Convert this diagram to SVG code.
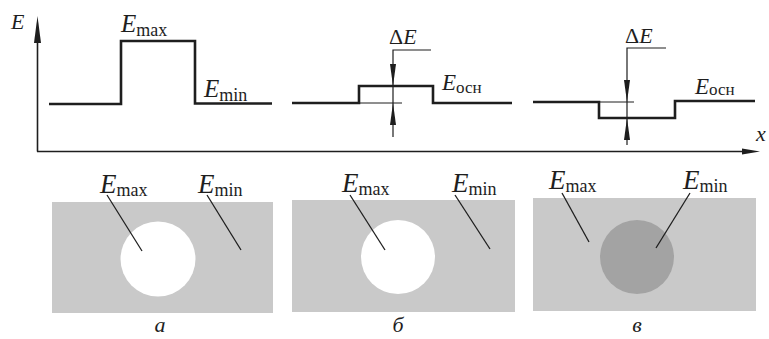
<svg xmlns="http://www.w3.org/2000/svg" width="769" height="339" viewBox="0 0 769 339">
<style>
.prof{fill:none;stroke:#1e1e1e;stroke-width:2.6;stroke-linejoin:miter}
.thin{fill:none;stroke:#1e1e1e;stroke-width:1}
.dim{fill:none;stroke:#1e1e1e;stroke-width:1.2}
.axis{fill:none;stroke:#1e1e1e;stroke-width:1.6}
.lead{fill:none;stroke:#1e1e1e;stroke-width:1.3}
.head{fill:#1e1e1e}
.E{font-family:"Liberation Serif",serif;font-style:italic;font-size:25px;fill:#1e1e1e}
.sub{font-family:"Liberation Serif",serif;font-style:normal;font-size:18px}
.up{font-style:normal}
.cap{font-family:"Liberation Serif",serif;font-style:italic;font-size:22px;fill:#1e1e1e}
.panel{fill:#c9c9c9}
</style>
<g id="axes">
<line class="axis" x1="37.5" y1="40" x2="37.5" y2="151.5"/>
<line class="axis" x1="37" y1="151.5" x2="745" y2="151.5"/>
<polygon class="head" points="37.5,16 41,43 34,43"/>
<polygon class="head" points="760,151.5 742,148.5 742,154.5"/>
<text class="E" x="11" y="29" style="font-size:22px">E</text>
<text class="E" x="756" y="141" style="font-size:22px">x</text>
</g>
<g id="profile-a">
<polyline class="prof" points="49,104 121,104 121,41 195,41 195,103.5 272,103.5"/>
<text class="E" x="121" y="32">E<tspan class="sub" dy="4">max</tspan></text>
<text class="E" x="204" y="97">E<tspan class="sub" dy="4">min</tspan></text>
</g>
<g id="profile-b">
<polyline class="prof" points="292,103 359,103 359,86 433,86 433,103 512,103"/>
<line class="thin" x1="359" y1="103" x2="402" y2="103"/>
<text class="E" x="389" y="44" style="font-size:22px"><tspan class="up">Δ</tspan>E</text>
<text class="E" x="442" y="90" style="font-size:23px">E<tspan class="sub" dy="3" style="font-size:17px">осн</tspan></text>
</g>
<g id="profile-c">
<polyline class="prof" points="533,102 599,102 599,118 675,118 675,101 755,101"/>
<line class="thin" x1="599" y1="102" x2="634" y2="102"/>
<text class="E" x="625" y="43" style="font-size:22px"><tspan class="up">Δ</tspan>E</text>
<text class="E" x="695" y="94" style="font-size:23px">E<tspan class="sub" dy="1" style="font-size:17px">осн</tspan></text>
</g>
<g id="image-a">
<rect class="panel" x="52" y="202" width="221" height="111"/>
<circle cx="158" cy="259" r="37.5" fill="#ffffff"/>
<text class="E" x="100" y="193" style="font-size:27px">E<tspan class="sub" dy="3">max</tspan></text>
<text class="E" x="198" y="193" style="font-size:27px">E<tspan class="sub" dy="3">min</tspan></text>
<text class="cap" x="160" y="332" text-anchor="middle">а</text>
</g>
<g id="image-b">
<rect class="panel" x="292" y="200" width="223" height="112"/>
<circle cx="398" cy="257" r="37" fill="#ffffff"/>
<text class="E" x="342" y="192" style="font-size:27px">E<tspan class="sub" dy="3">max</tspan></text>
<text class="E" x="452" y="192" style="font-size:27px">E<tspan class="sub" dy="3">min</tspan></text>
<text class="cap" x="398" y="332" text-anchor="middle">б</text>
</g>
<g id="image-c">
<rect class="panel" x="533" y="198" width="223" height="113"/>
<circle cx="637" cy="257" r="37" fill="#a3a3a3"/>
<text class="E" x="549" y="189" style="font-size:27px">E<tspan class="sub" dy="3">max</tspan></text>
<text class="E" x="683" y="189" style="font-size:27px">E<tspan class="sub" dy="3">min</tspan></text>
<text class="cap" x="637" y="332" text-anchor="middle">в</text>
</g>
<g id="connectors">
<polyline class="dim" points="431,50 393,50 393,137"/>
<polygon class="head" points="393,86 390,64 396,64"/>
<polygon class="head" points="393,103 390,125 396,125"/>
<polyline class="dim" points="666,48 627,48 627,145"/>
<polygon class="head" points="627,102 624,80 630,80"/>
<polygon class="head" points="627,118 624,140 630,140"/>
<line class="lead" x1="107" y1="195" x2="142" y2="251"/>
<line class="lead" x1="207" y1="195" x2="241" y2="250"/>
<line class="lead" x1="350" y1="195" x2="385" y2="250"/>
<line class="lead" x1="455" y1="195" x2="490" y2="249"/>
<line class="lead" x1="562" y1="193" x2="589" y2="242"/>
<line class="lead" x1="690" y1="193" x2="656" y2="248"/>
</g>
</svg>
